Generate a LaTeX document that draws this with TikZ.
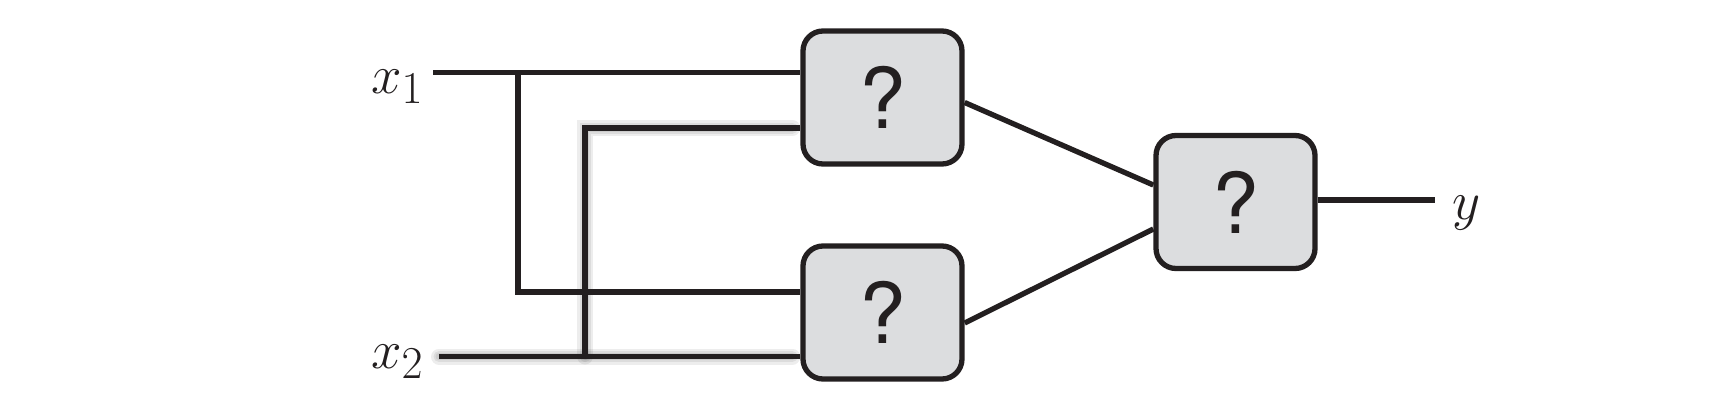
\documentclass[tikz,border=0pt]{standalone}
\usepackage{graphicx}
\usepackage{fontspec}
\usetikzlibrary{calc}
\newfontfamily\qfont{TeX Gyre Heros}
\definecolor{ink}{HTML}{231F20}
\definecolor{boxfill}{HTML}{DCDDDF}
\newcommand{\biglbl}[1]{\scalebox{2.2}{\fontsize{24.88}{30}\selectfont$#1$}}
\begin{document}
\begin{tikzpicture}[x=1pt,y=-1pt,
  gate/.style={draw=ink, line width=5.3pt, fill=boxfill, rounded corners=20pt,
    minimum width=159pt, minimum height=133pt, inner sep=0pt,
    font=\qfont\fontsize{84}{90}\selectfont, text=ink},
  wire/.style={draw=ink, line width=5.3pt},
  lbl/.style={inner sep=0pt, anchor=base west, text=ink},
  shade/.style={draw=black, line width=#1, opacity=0.07, line cap=round}]
\useasboundingbox (0,0) rectangle (1719,413);
% gates
\node[gate] (g1) at (882.5,97.5) {?};
\node[gate] (g2) at (882.5,312.5) {?};
\node[gate] (g3) at (1235.5,202) {?};
% labels
\node[lbl] (lx1) at (371,93) {\biglbl{x_1}};
\node[lbl] (lx2) at (371,368) {\biglbl{x_2}};
\node[lbl] (ly) at (1452,219) {\biglbl{y}};
% wire points
\coordinate (s1) at (433,72.5);
\coordinate (s2) at (439,356.5);
\coordinate (b1) at (518,72.5);
\coordinate (b2) at (585,356.5);
\coordinate (g1a) at ($(g1.west)+(0,-25)$);
\coordinate (g1b) at ($(g1.west)+(0,30.5)$);
\coordinate (g2a) at ($(g2.west)+(0,-20.5)$);
\coordinate (g2b) at ($(g2.west)+(0,44)$);
\coordinate (e) at (1435,200);
% soft shadows
\begin{scope}[shift={(4,6)}]
  \foreach \w in {16pt,11pt,7pt}{
    \draw[shade=\w] (s2) -- ($(g2b)+(-8,0)$);
    \draw[shade=\w] (b2) -- (b2 |- g1b) -- ($(g1b)+(-8,0)$);
  }
\end{scope}
% wires
\draw[wire] (s1) -- (g1a);
\draw[wire] (b1) |- (g2a);
\draw[wire] (s2) -- (g2b);
\draw[wire] (b2) |- (g1b);
\draw[wire] ($(g1.east)+(0,5)$) -- ($(g3.west)+(0,-17)$);
\draw[wire] ($(g2.east)+(0,10.5)$) -- ($(g3.west)+(0,27)$);
\draw[wire] (g3.east |- e) -- (e);
\end{tikzpicture}
\end{document}
